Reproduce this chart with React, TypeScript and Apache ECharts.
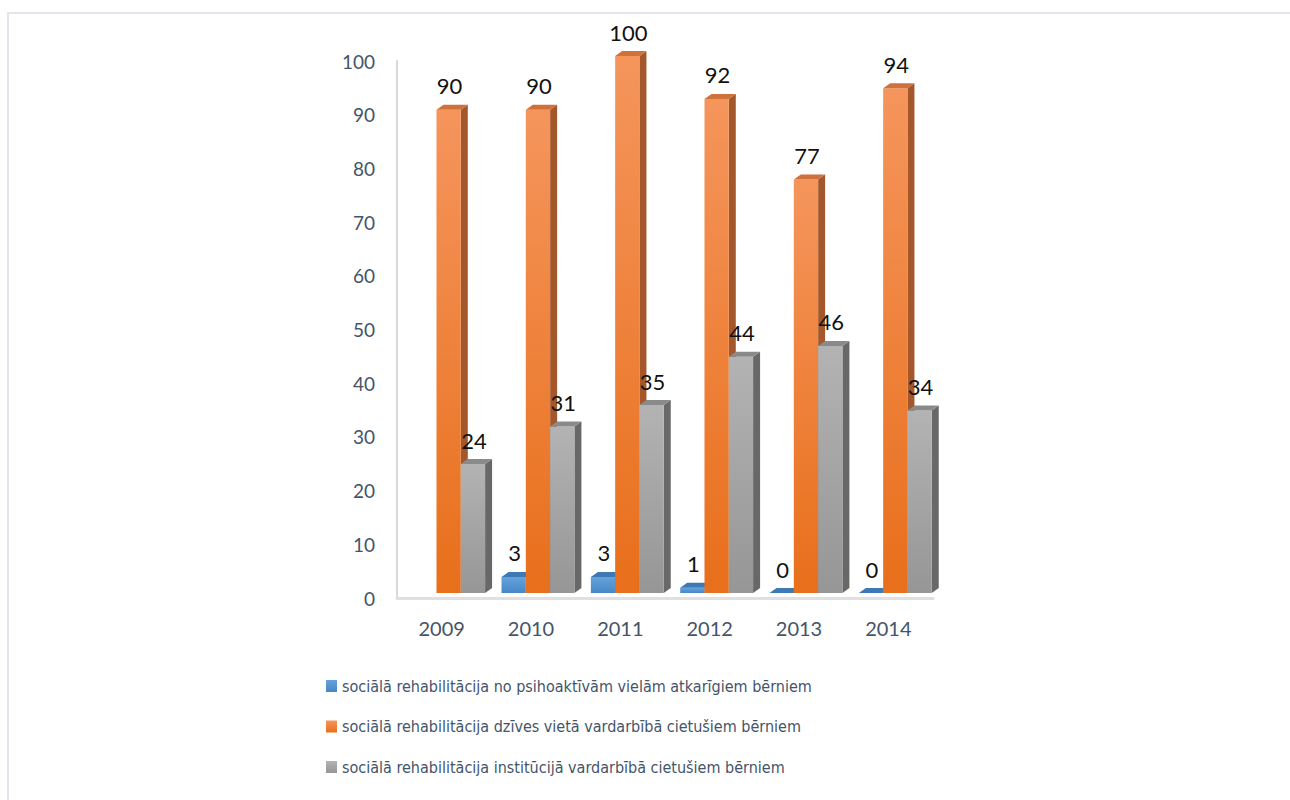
import React, { useEffect, useRef } from "react";
import * as echarts from "echarts";

const categories = ["2009", "2010", "2011", "2012", "2013", "2014"];
const seriesNames = [
  "sociālā rehabilitācija no psihoaktīvām vielām atkarīgiem bērniem",
  "sociālā rehabilitācija dzīves vietā vardarbībā cietušiem bērniem",
  "sociālā rehabilitācija institūcijā vardarbībā cietušiem bērniem",
];
const blueValues: (number | null)[] = [null, 3, 3, 1, 0, 0];
const orangeValues: (number | null)[] = [90, 90, 100, 92, 77, 94];
const grayValues: (number | null)[] = [24, 31, 35, 44, 46, 34];
const allValues = [blueValues, orangeValues, grayValues];

const palettes = [
  { frontTop: "#64A3DC", frontBottom: "#4787C6", top: "#3E79B5", side: "#2D629C" },
  { frontTop: "#F5955C", frontBottom: "#E86F1B", top: "#CF713A", side: "#A3572B" },
  { frontTop: "#B3B3B3", frontBottom: "#969696", top: "#8A8A8A", side: "#686868" },
];

const DX = 7;
const DY = 5;
const LIFT = 5;

export default function App() {
  const ref = useRef<HTMLDivElement>(null);
  useEffect(() => {
    if (!ref.current) return;
    const chart = echarts.init(ref.current, undefined, { renderer: "svg" });

    const series = allValues.map((vals, idx) => {
      const p = palettes[idx];
      const grad = new echarts.graphic.LinearGradient(0, 0, 0, 1, [
        { offset: 0, color: p.frontTop },
        { offset: 1, color: p.frontBottom },
      ]);
      return {
        type: "custom",
        name: seriesNames[idx],
        coordinateSystem: "cartesian2d",
        encode: { x: 0, y: 1 },
        itemStyle: { color: grad },
        data: vals.map((v, i) => [i, v == null ? "-" : v]),
        renderItem: (params: any, api: any) => {
          const v = api.value(1);
          if (v == null || isNaN(v)) return null;
          const cat = api.value(0);
          const base = api.coord([cat, 0]);
          const topPt = api.coord([cat, v]);
          const band = api.size([1, 0])[0];
          const w = band * 0.272;
          const x0 = base[0] - band * 0.33 + idx * w;
          const x1 = x0 + w;
          const yb = base[1] - LIFT;
          const yt = topPt[1] - LIFT;
          const children: any[] = [
            {
              type: "polygon",
              shape: {
                points: [
                  [x1, yt],
                  [x1 + DX, yt - DY],
                  [x1 + DX, yb - DY],
                  [x1, yb],
                ],
              },
              style: { fill: p.side },
            },
            {
              type: "rect",
              shape: { x: x0, y: yt, width: w, height: Math.max(0, yb - yt) },
              style: {
                fill: new echarts.graphic.LinearGradient(0, 0, 0, 1, [
                  { offset: 0, color: p.frontTop },
                  { offset: 1, color: p.frontBottom },
                ]),
              },
            },
            {
              type: "polygon",
              shape: {
                points: [
                  [x0, yt],
                  [x1, yt],
                  [x1 + DX, yt - DY],
                  [x0 + DX, yt - DY],
                ],
              },
              style: { fill: p.top },
            },
            {
              type: "text",
              style: {
                text: String(v),
                x: (x0 + x1) / 2 + 1,
                y: yt - 24,
                align: "center",
                verticalAlign: "middle",
                fontSize: 22,
                fontFamily: "Lato, 'Liberation Sans', sans-serif",
                fill: "#111111",
              },
            },
          ];
          return { type: "group", children };
        },
      };
    });

    chart.setOption({
      animation: false,
      backgroundColor: "#ffffff",
      graphic: [
        {
          type: "rect",
          shape: { x: 8, y: 13, width: 1400, height: 900 },
          style: { fill: "none", stroke: "#E1E6EC", lineWidth: 2 },
          silent: true,
        },
      ],
      grid: { left: 397, right: 357, top: 61, bottom: 202 },
      legend: {
        orient: "vertical",
        left: 321,
        top: 671,
        itemWidth: 11,
        itemHeight: 12,
        itemGap: 20.5,
        icon: "rect",
        data: seriesNames,
        textStyle: {
          color: "#44546A",
          fontSize: 16,
          lineHeight: 20,
          fontFamily: "'DejaVu Sans Condensed', sans-serif",
        },
      },
      xAxis: {
        type: "category",
        data: categories,
        axisTick: { show: false },
        axisLine: { show: true, lineStyle: { color: "#E0E0E0", width: 3 } },
        axisLabel: {
          color: "#44546A",
          fontSize: 20,
          margin: 20,
          fontFamily: "Lato, 'Liberation Sans', sans-serif",
        },
        splitLine: { show: false },
      },
      yAxis: {
        type: "value",
        min: 0,
        max: 100,
        interval: 10,
        axisLine: { show: true, lineStyle: { color: "#D9D9D9", width: 2 } },
        axisTick: { show: false },
        splitLine: { show: false },
        axisLabel: {
          color: "#44546A",
          fontSize: 19,
          margin: 22,
          fontFamily: "Lato, 'Liberation Sans', sans-serif",
        },
      },
      series,
    } as any);
    return () => chart.dispose();
  }, []);
  return (
    <div
      ref={ref}
      style={{ position: "fixed", left: 0, top: 0, width: 1290, height: 800 }}
    />
  );
}
